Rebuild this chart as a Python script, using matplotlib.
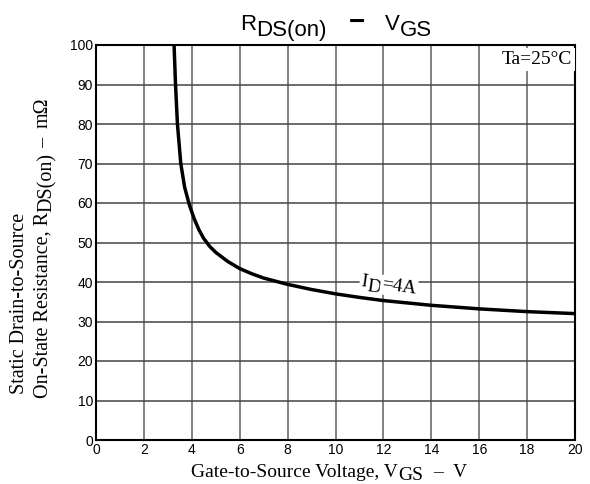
import numpy as np
import matplotlib
matplotlib.use("Agg")
import matplotlib.pyplot as plt

# curve (Ta = 25C, ID = 4A)
vgs = [3.26, 3.32, 3.40, 3.54, 3.70, 3.90, 4.1, 4.3, 4.5, 4.75, 5.0, 5.5,
       6.0, 6.5, 7.0, 8.0, 9.0, 10.0, 11.0, 12.0, 13.0, 14.0, 16.0, 18.0,
       20.0]
rds = [100, 90, 80, 70, 64, 59.5, 56, 53.2, 51, 49, 47.5, 45.2,
       43.4, 42.1, 41.0, 39.4, 38.1, 37.0, 36.1, 35.3, 34.7, 34.1, 33.2,
       32.5, 32.0]

x_ticks = list(range(0, 21, 2))
y_ticks = list(range(0, 101, 10))

W, H = 590, 484
fig = plt.figure(figsize=(W / 100, H / 100), dpi=100)
ax = fig.add_axes([96 / W, 1 - 440 / H, 479 / W, 395 / H])


def draw_runs(x0, y0, runs, angle=0.0, **kw):
    """
        Write text pieces one after the other, subscripts are the same
        size but moved down. x0, y0 = centre of the baseline in pixels
        (from top-left corner). runs = (text, drop, gap after[, extra kw])
    """
    r = fig.canvas.get_renderer()
    th = np.radians(angle)
    ux, uy = np.cos(th), np.sin(th)
    nx, ny = np.sin(th), -np.cos(th)
    y0 = H - y0
    widths = []
    for run in runs:
        extra = run[3] if len(run) > 3 else {}
        t = fig.text(0, 0, run[0], **{**kw, **extra})
        widths.append(t.get_window_extent(r).width + run[2])
        t.remove()
    pos = -sum(widths) / 2
    for run, w in zip(runs, widths):
        extra = run[3] if len(run) > 3 else {}
        px = x0 + pos * ux + run[1] * nx
        py = y0 + pos * uy + run[1] * ny
        fig.text(px / W, py / H, run[0], rotation=angle,
                 rotation_mode='anchor', ha='left', va='baseline',
                 **{**kw, **extra})
        pos += w


ax.plot(vgs, rds, color='black', linewidth=2.5, zorder=3)

ax.set_xlim(0, 20)
ax.set_ylim(0, 100)
ax.set_xticks(x_ticks)
ax.set_yticks(y_ticks)
ax.grid(True, axis='x', color='#777777', linewidth=1.3)
ax.grid(True, axis='y', color='#444444', linewidth=1.1)
ax.tick_params(length=0, pad=2, labelsize=10)
for lab in ax.get_xticklabels() + ax.get_yticklabels():
    lab.set_family('Liberation Sans')
for sp in ax.spines.values():
    sp.set_linewidth(1.5)

sans = dict(family='Liberation Sans', fontsize=16)
serif = dict(family='Liberation Serif', fontsize=14)

# title
draw_runs(336, 30, [('R', 0, 0), ('DS(on)', 6, 22),
                    ('−', 0, 20, dict(fontweight='bold', fontsize=20)),
                    ('V', 0, 0), ('GS', 6, 0)], **sans)

# axis labels
draw_runs(329, 477, [('Gate-to-Source Voltage, V', 0, 0), ('GS', 3.5, 10),
                     ('–', 0, 10), ('V', 0, 0)], **serif)
draw_runs(24, 303, [('Static Drain-to-Source', 0, 0)], angle=90,
          family='Liberation Serif', fontsize=14.5)
draw_runs(48, 248, [('On-State Resistance, R', 0, 0), ('DS(on)', 3.5, 5),
                    ('–', 0, 10), ('mΩ', 0, 0)], angle=90,
          family='Liberation Serif', fontsize=14.5)

# notes
fig.text(572 / W, 1 - 64 / H, 'Ta=25°C', ha='right', va='baseline',
         bbox=dict(facecolor='white', edgecolor='none', pad=2), **serif)
draw_runs(388, 290, [('I', 0, 0), ('D', 3.5, 0), ('=4A', 0, 0)], angle=-8,
          bbox=dict(facecolor='white', edgecolor='none', pad=1), **serif)

fig.savefig('out.png', dpi=100)
